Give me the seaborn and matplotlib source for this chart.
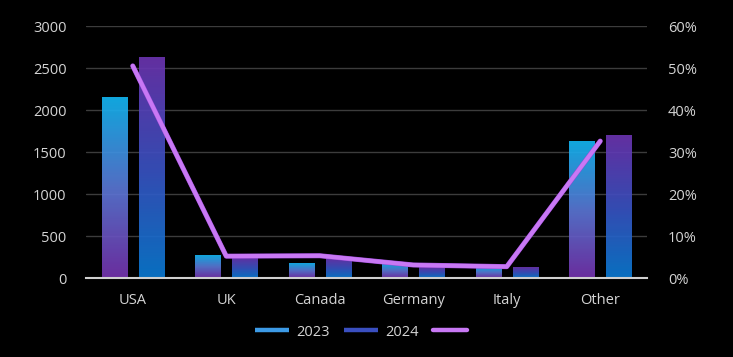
import numpy as np
import pandas as pd
import matplotlib
matplotlib.use("Agg")
import matplotlib.pyplot as plt
import matplotlib.patheffects as pe
from matplotlib.colors import LinearSegmentedColormap
from matplotlib.lines import Line2D
from matplotlib.ticker import FuncFormatter
import seaborn as sns

# ---- data ----
categories = ["USA", "UK", "Canada", "Germany", "Italy", "Other"]
values_2023 = [2145, 270, 175, 170, 125, 1625]
values_2024 = [2630, 250, 230, 125, 120, 1695]
share_pct = [0.505, 0.052, 0.053, 0.031, 0.027, 0.326]
years = ["2023", "2024"]

df = pd.DataFrame({
    "country": categories * 2,
    "year": [years[0]] * len(categories) + [years[1]] * len(categories),
    "value": values_2023 + values_2024,
})

sns.set_style("dark", {"axes.facecolor": "black", "figure.facecolor": "black"})
plt.rcParams["font.family"] = ["Open Sans", "DejaVu Sans"]

TXT = "#d4d4d4"
FS = 10.5
fig = plt.figure(figsize=(7.33, 3.57), dpi=100, facecolor="black")
ax = fig.add_axes([86 / 733, 1 - 278 / 357, (647 - 86) / 733, (278 - 26) / 357])
ax.set_facecolor("black")

sns.barplot(data=df, x="country", y="value", hue="year", order=categories,
            hue_order=years, palette=["#3a9be8", "#3a50c0"], width=0.8,
            gap=0.33, ax=ax, legend=False, zorder=2)

cmaps = [
    LinearSegmentedColormap.from_list("g23", ["#7432ad", "#5a78d6", "#12b6f2"]),
    LinearSegmentedColormap.from_list("g24", ["#0a7ad2", "#3a52c2", "#6c34b0"]),
]
grad = np.linspace(0, 1, 256).reshape(-1, 1)
for cont, cm in zip(ax.containers, cmaps):
    for bar in cont:
        x0, y0 = bar.get_x(), bar.get_y()
        w, h = bar.get_width(), bar.get_height()
        bar.set_facecolor("none")
        bar.set_edgecolor("none")
        ax.imshow(grad, cmap=cm, origin="lower", aspect="auto",
                  extent=(x0, x0 + w, y0, y0 + h), zorder=2, alpha=0.92,
                  interpolation="bilinear")

ax.set_xlim(-0.5, len(categories) - 0.5)
ax.set_ylim(0, 3000)
ax.set_yticks(np.arange(0, 3001, 500))
ax.grid(axis="y", color="#3c3c3c", linewidth=1.0, zorder=0)
ax.grid(axis="x", visible=False)
for s in ["top", "right", "left"]:
    ax.spines[s].set_visible(False)
ax.spines["bottom"].set_color("#d0d0d0")
ax.spines["bottom"].set_linewidth(1.5)
ax.spines["bottom"].set_zorder(3)
ax.tick_params(axis="both", length=0, colors=TXT, labelsize=FS)
ax.tick_params(axis="y", pad=14)
ax.tick_params(axis="x", pad=11)
ax.set_xlabel("")
ax.set_ylabel("")

ax2 = ax.twinx()
ax2.set_facecolor("none")
sns.lineplot(x=np.arange(len(categories)), y=share_pct, ax=ax2,
             color="#c878f4", linewidth=3.0, solid_capstyle="round",
             solid_joinstyle="round", legend=False,
             path_effects=[pe.Stroke(linewidth=3.6, foreground="#9a48d6"), pe.Normal()])
ax2.set_ylim(0, 0.6)
ax2.set_yticks(np.arange(0, 0.61, 0.1))
ax2.yaxis.set_major_formatter(FuncFormatter(lambda v, p: f"{v*100:.0f}%"))
for s in ax2.spines.values():
    s.set_visible(False)
ax2.tick_params(axis="y", length=0, colors=TXT, labelsize=FS, pad=15)
ax2.grid(False)
ax2.set_ylabel("")
ax.set_xlim(-0.5, len(categories) - 0.5)

handles = [
    Line2D([], [], color="#3c9ae6", linewidth=3.2, solid_capstyle="butt"),
    Line2D([], [], color="#3a4fc0", linewidth=3.2, solid_capstyle="butt"),
    Line2D([], [], color="#c878f4", linewidth=3.2, solid_capstyle="round"),
]
leg = fig.legend(handles, ["2023", "2024", " "], loc="center",
                 bbox_to_anchor=(366.5 / 733, 1 - 332 / 357), ncol=3,
                 frameon=False, fontsize=FS, handlelength=2.3,
                 columnspacing=1.0, handletextpad=0.5)
for t in leg.get_texts():
    t.set_color(TXT)

fig.savefig("out.png", dpi=100, facecolor="black")
